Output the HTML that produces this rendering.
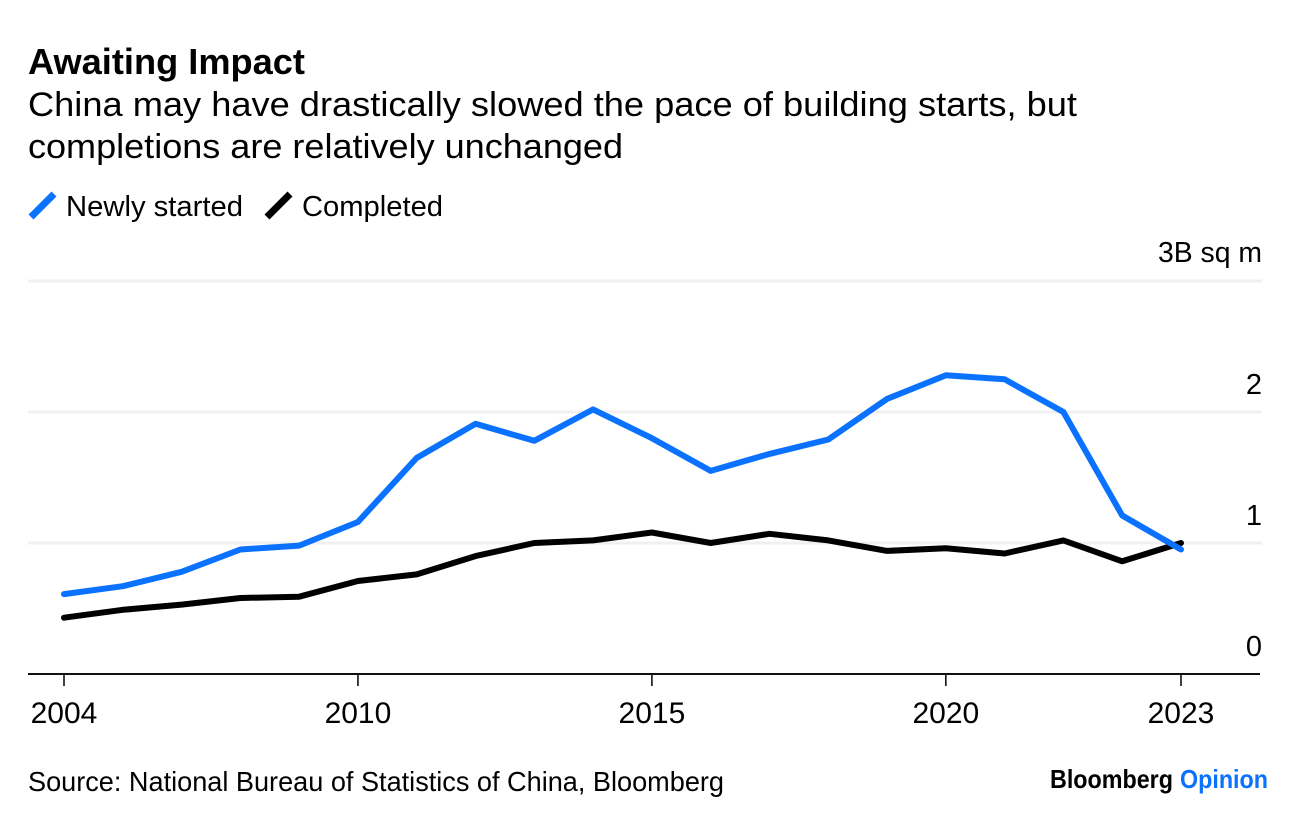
<!DOCTYPE html>
<html lang="en">
<head>
<meta charset="utf-8">
<title>Awaiting Impact</title>
<style>
html,body{margin:0;padding:0;background:#fff;width:1296px;height:824px;overflow:hidden}
svg{display:block;font-family:"Liberation Sans",sans-serif;fill:#000}
</style>
</head>
<body>
<svg id="chart" xmlns="http://www.w3.org/2000/svg" width="1296" height="824" viewBox="0 0 1296 824">
  <text x="28" y="74" font-size="36" font-weight="700" textLength="277" lengthAdjust="spacingAndGlyphs">Awaiting Impact</text>
  <text x="28" y="116" font-size="34" textLength="1049" lengthAdjust="spacingAndGlyphs">China may have drastically slowed the pace of building starts, but</text>
  <text x="28" y="158" font-size="34" textLength="595" lengthAdjust="spacingAndGlyphs">completions are relatively unchanged</text>

  <g>
    <line x1="31" y1="217" x2="54" y2="194" stroke="#0a72ff" stroke-width="7"/>
    <text x="66" y="216" font-size="29" textLength="177" lengthAdjust="spacingAndGlyphs">Newly started</text>
    <line x1="267" y1="217" x2="290" y2="194" stroke="#000" stroke-width="7"/>
    <text x="302" y="216" font-size="29" textLength="141" lengthAdjust="spacingAndGlyphs">Completed</text>
  </g>

  <text x="1158" y="262" font-size="29" textLength="104" lengthAdjust="spacingAndGlyphs">3B sq m</text>
  <g id="grid"></g>
  <g id="xaxis"></g>
  <g id="series"></g>

  <text x="28" y="791" font-size="28" textLength="696" lengthAdjust="spacingAndGlyphs">Source: National Bureau of Statistics of China, Bloomberg</text>
  <text x="1050" y="788" font-size="26" font-weight="700" textLength="123" lengthAdjust="spacingAndGlyphs">Bloomberg</text>
  <text x="1180" y="788" font-size="26" font-weight="700" style="fill:#0a72ff" textLength="88" lengthAdjust="spacingAndGlyphs">Opinion</text>
</svg>
<script>
const xTickLabels = ["2004","","","","","2010","","","","","2015","","","","","2020","","","","2023"];
const newlyStarted = [0.61,0.67,0.78,0.95,0.98,1.16,1.65,1.91,1.78,2.02,1.80,1.55,1.68,1.79,2.10,2.28,2.25,2.00,1.21,0.95];
const completed = [0.43,0.49,0.53,0.58,0.59,0.71,0.76,0.90,1.00,1.02,1.08,1.00,1.07,1.02,0.94,0.96,0.92,1.02,0.86,1.00];
const yTicks = [0,1,2,3];
const yTickLabels = ["0","1","2",""];

const NS = "http://www.w3.org/2000/svg";
const xScale = i => 64 + i * (1181 - 64) / (xTickLabels.length - 1);
const yScale = v => 674 - v * 131;

const grid = document.getElementById("grid");
const xaxis = document.getElementById("xaxis");
const seriesGroup = document.getElementById("series");

yTicks.forEach((t, i) => {
  if (t > 0) {
    const g = document.createElementNS(NS, "line");
    
    
    g.setAttribute("x1", 28);
    g.setAttribute("x2", 1262);
    g.setAttribute("y1", yScale(t));
    g.setAttribute("y2", yScale(t));
    g.setAttribute("stroke", "#f0f0f0");
    g.setAttribute("stroke-width", 3);
    grid.appendChild(g);
  }
  if (yTickLabels[i]) {
    const l = document.createElementNS(NS, "text");
    
    
    l.setAttribute("x", 1262);
    l.setAttribute("y", yScale(t) - 18);
    l.setAttribute("text-anchor", "end");
    l.setAttribute("font-size", 29);
    l.textContent = yTickLabels[i];
    grid.appendChild(l);
  }
});

const axisLine = document.createElementNS(NS, "line");


axisLine.setAttribute("x1", 28);
axisLine.setAttribute("x2", 1260);
axisLine.setAttribute("y1", yScale(0));
axisLine.setAttribute("y2", yScale(0));
axisLine.setAttribute("stroke", "#111");
axisLine.setAttribute("stroke-width", 2);
xaxis.appendChild(axisLine);

xTickLabels.forEach((label, i) => {
  if (!label) return;
  const tick = document.createElementNS(NS, "line");
  
  
  tick.setAttribute("x1", xScale(i));
  tick.setAttribute("x2", xScale(i));
  tick.setAttribute("y1", 674);
  tick.setAttribute("y2", 686);
  tick.setAttribute("stroke", "#111");
  tick.setAttribute("stroke-width", 1.6);
  xaxis.appendChild(tick);
  const text = document.createElementNS(NS, "text");
  
  
  text.setAttribute("x", xScale(i));
  text.setAttribute("y", 723);
  text.setAttribute("text-anchor", "middle");
  text.setAttribute("font-size", 30);
  text.textContent = label;
  xaxis.appendChild(text);
});

function pathFor(values) {
  return values.map((v, i) => (i ? "L" : "M") + xScale(i).toFixed(1) + " " + yScale(v).toFixed(1)).join(" ");
}

const completedLine = document.createElementNS(NS, "path");


completedLine.setAttribute("d", pathFor(completed));
completedLine.setAttribute("fill", "none");
completedLine.setAttribute("stroke", "#000");
completedLine.setAttribute("stroke-width", 6);
completedLine.setAttribute("stroke-linejoin", "round");
completedLine.setAttribute("stroke-linecap", "round");
seriesGroup.appendChild(completedLine);

const startedLine = document.createElementNS(NS, "path");


startedLine.setAttribute("d", pathFor(newlyStarted));
startedLine.setAttribute("fill", "none");
startedLine.setAttribute("stroke", "#0a72ff");
startedLine.setAttribute("stroke-width", 6);
startedLine.setAttribute("stroke-linejoin", "round");
startedLine.setAttribute("stroke-linecap", "round");
seriesGroup.appendChild(startedLine);
</script>
</body>
</html>
